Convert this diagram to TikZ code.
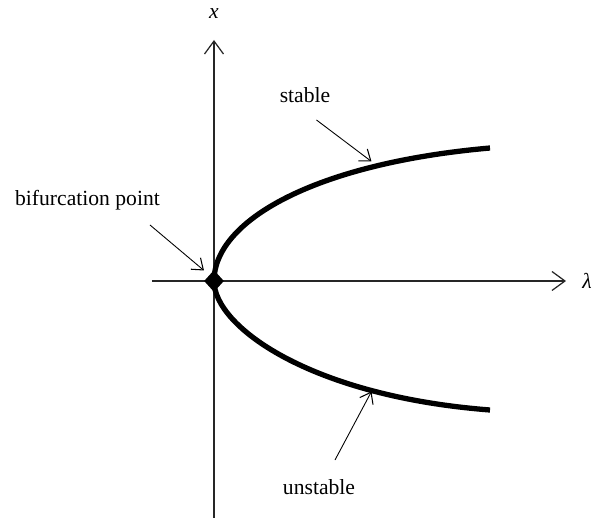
\documentclass[tikz,border=0pt]{standalone}
\usepackage{fontspec}
\setmainfont{Liberation Serif}
\usetikzlibrary{arrows.meta, shapes.geometric}

\begin{document}
\begin{tikzpicture}[x=1cm,y=1cm,
  axe/.style={line width=0.8pt, draw=black!85, -{Straight Barb[length=0.26cm, width=0.38cm, line width=0.7pt]}},
  branche/.style={line width=3pt},
  fleche/.style={line width=0.5pt, -{Straight Barb[length=0.2cm, width=0.3cm, line width=0.6pt]}},
  etiquette/.style={font=\fontsize{12.3}{14}\selectfont, inner sep=1pt},
  point/.style={diamond, fill=black, inner sep=0pt, minimum width=0.4cm, minimum height=0.44cm}]

\useasboundingbox (-4.28,-4.74) rectangle (7.72,5.62);

%% ================= axes ===================================================
\coordinate (O) at (0,0);
\coordinate (xbas) at (0,-4.74);  \coordinate (xhaut) at (0,4.82);
\coordinate (lgauche) at (-1.24,0); \coordinate (ldroite) at (7.04,0);
\draw[axe] (xbas) -- (xhaut);
\draw[axe] (lgauche) -- (ldroite);
\node[etiquette, font=\fontsize{12.3}{14}\selectfont\itshape] (lx) at (0,5.34) {x};
\node[etiquette, font=\fontsize{12.3}{14}\selectfont\itshape] (ll) at (7.46,0) {λ};

%% ================= branches ===============================================
\coordinate (hautfin) at (5.52,2.66);
\coordinate (basfin) at (5.52,-2.58);
\draw[branche] (O) .. controls (0,1.2) and (2.0,2.35) .. (hautfin);
\draw[branche] (O) .. controls (0,-0.9) and (1.9,-2.3) .. (basfin);
\node[point] (bif) at (O) {};

%% ================= légendes ===============================================
\node[etiquette] (stable) at (1.82,3.72) {stable};
\coordinate (s0) at (2.05,3.22);  \coordinate (s1) at (3.15,2.39);
\draw[fleche] (s0) -- (s1);

\node[etiquette] (unstable) at (2.10,-4.12) {unstable};
\coordinate (u0) at (2.42,-3.58); \coordinate (u1) at (3.15,-2.21);
\draw[fleche] (u0) -- (u1);

\node[etiquette] (bifpt) at (-2.53,1.62) {bifurcation point};
\coordinate (b0) at (-1.28,1.12); \coordinate (b1) at (-0.2,0.21);
\draw[fleche] (b0) -- (b1);
\end{tikzpicture}
\end{document}
